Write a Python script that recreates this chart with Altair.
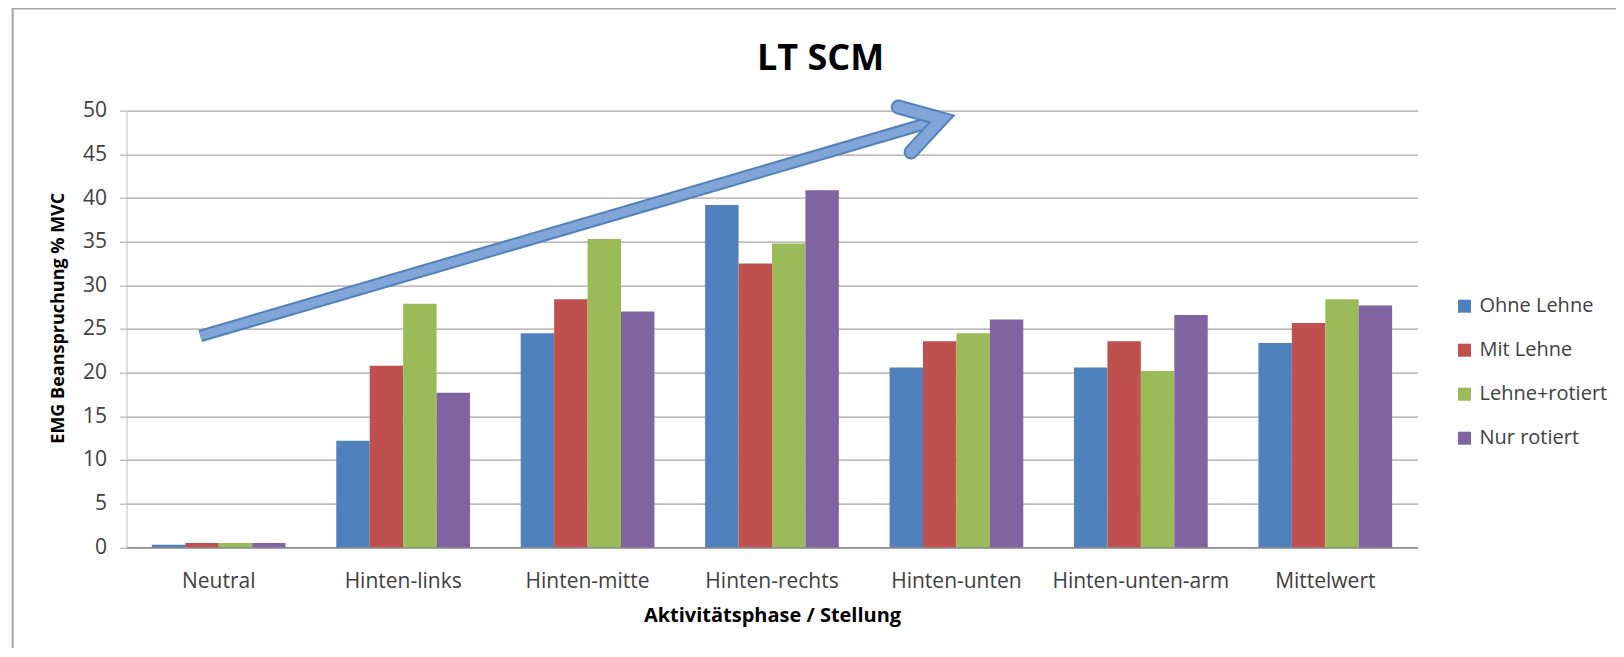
import altair as alt
import pandas as pd

# ---------------- data ----------------
TITLE = "LT SCM"
X_TITLE = "Aktivitätsphase / Stellung"
Y_TITLE = "EMG Beanspruchung % MVC"
CATEGORIES = ["Neutral", "Hinten-links", "Hinten-mitte", "Hinten-rechts",
              "Hinten-unten", "Hinten-unten-arm", "Mittelwert"]
SERIES = ["Ohne Lehne", "Mit Lehne", "Lehne+rotiert", "Nur rotiert"]
OHNE_LEHNE = [0.3, 12.2, 24.5, 39.2, 20.6, 20.6, 23.4]
MIT_LEHNE = [0.5, 20.8, 28.4, 32.5, 23.6, 23.6, 25.7]
LEHNE_ROTIERT = [0.5, 27.9, 35.3, 34.8, 24.5, 20.2, 28.4]
NUR_ROTIERT = [0.5, 17.7, 27.0, 40.9, 26.1, 26.6, 27.7]
Y_TICKS = list(range(0, 51, 5))
CATEGORY_BOUNDARIES = list(range(len(CATEGORIES) + 1))

# arrow annotation, in category units (x) and % MVC (y)
ARROW_SHAFT_X = [0.40, 4.42]
ARROW_SHAFT_Y = [24.2, 49.05]
ARROW_HEAD_X = [4.185, 4.42, 4.254]
ARROW_HEAD_Y = [50.42, 49.05, 45.27]

COLORS = ["#4f81bd", "#c0504d", "#9bbb59", "#8064a2"]

# ---------------- tables ----------------
rows = []
for s, vals in zip(SERIES, [OHNE_LEHNE, MIT_LEHNE, LEHNE_ROTIERT, NUR_ROTIERT]):
    for c, v in zip(CATEGORIES, vals):
        rows.append({"Stellung": c, "Serie": s, "Wert": v})
bars_df = pd.DataFrame(rows)

shaft_df = pd.DataFrame({"ax": ARROW_SHAFT_X, "ay": ARROW_SHAFT_Y,
                         "o": list(range(len(ARROW_SHAFT_X)))})
head_df = pd.DataFrame({"ax": ARROW_HEAD_X, "ay": ARROW_HEAD_Y,
                        "o": list(range(len(ARROW_HEAD_X)))})
title_df = pd.DataFrame({"t": [TITLE]})
one_df = pd.DataFrame({"k": [0]})

W, H = 1291, 436.6
FONT = "Open Sans"

y_scale = alt.Scale(domain=[0, 50], nice=False, zero=True)

bars = alt.Chart(bars_df).mark_bar().encode(
    x=alt.X("Stellung:N", sort=CATEGORIES,
            scale=alt.Scale(paddingInner=0.275, paddingOuter=0.1375),
            axis=alt.Axis(title=X_TITLE, labelAngle=0, ticks=False, tickSize=0,
                          labelPadding=23.6, domainColor="#8c8c8c", domainWidth=1.5,
                          labelFontSize=21, labelColor="#404040", labelFont=FONT,
                          titleFont=FONT, titleFontSize=20, titleFontWeight="bold",
                          titlePadding=14, titleColor="#000000", grid=False)),
    xOffset=alt.XOffset("Serie:N", sort=SERIES,
                        scale=alt.Scale(paddingInner=0, paddingOuter=0)),
    y=alt.Y("Wert:Q", scale=y_scale,
            axis=alt.Axis(values=Y_TICKS, title=Y_TITLE, grid=True,
                          gridColor="#a6a6a6", gridWidth=1.2,
                          domainColor="#bfbfbf", tickColor="#a6a6a6", tickSize=7,
                          labelPadding=13, labelFontSize=21, labelColor="#404040",
                          labelFont=FONT, titleFont=FONT, titleFontSize=18,
                          titleFontWeight="bold", titlePadding=15,
                          titleColor="#000000", titleY=207)),
    color=alt.Color("Serie:N", sort=SERIES,
                    scale=alt.Scale(domain=SERIES, range=COLORS),
                    legend=alt.Legend(title=None, orient="none", legendX=1328,
                                      legendY=185.5, symbolType="square",
                                      symbolSize=170, symbolStrokeWidth=0,
                                      labelFontSize=20, labelColor="#404040",
                                      labelFont=FONT, rowPadding=24,
                                      labelOffset=5, padding=0)),
)

ax_scale = alt.Scale(domain=[0, len(CATEGORIES)], nice=False, zero=False)


def arrow_layer(df, width, color, cap, with_axis=False):
    axis = (alt.Axis(values=CATEGORY_BOUNDARIES, labels=False, domain=False,
                     ticks=True, tickSize=7, tickColor="#8c8c8c", tickWidth=1.5,
                     title=None, grid=False)
            if with_axis else None)
    return alt.Chart(df).mark_line(
        strokeWidth=width, color=color, strokeCap=cap, strokeJoin="miter",
        strokeMiterLimit=10
    ).encode(
        x=alt.X("ax:Q", scale=ax_scale, axis=axis),
        y=alt.Y("ay:Q", scale=y_scale),
        order="o:O",
    )


arrow = alt.layer(
    arrow_layer(shaft_df, 12.5, "#4f81bd", "butt", with_axis=True),
    arrow_layer(shaft_df, 8.5, "#82a5d8", "butt"),
    arrow_layer(head_df, 15, "#4f81bd", "round"),
    arrow_layer(head_df, 11, "#82a5d8", "round"),
)

frame_left = alt.Chart(one_df).mark_rule(color="#a6a6a6", strokeWidth=2).encode(
    x=alt.value(-113.8), y=alt.value(-103), y2=alt.value(H + 110))
frame_top = alt.Chart(one_df).mark_rule(color="#a6a6a6", strokeWidth=2).encode(
    x=alt.value(-114.8), x2=alt.value(W + 200), y=alt.value(-102.2))

title = alt.Chart(title_df).mark_text(
    font=FONT, fontSize=36, fontWeight="bold", color="#000000",
    align="center", baseline="alphabetic"
).encode(x=alt.value(694), y=alt.value(-40.7), text="t:N")

chart = alt.layer(bars, arrow, frame_left, frame_top, title).resolve_scale(
    x="independent"
).properties(
    width=W, height=H,
    padding={"left": 118.5, "top": 102.7, "right": 198, "bottom": 101},
    autosize=alt.AutoSizeParams(type="none"),
    background="white",
).configure_view(stroke=None)

chart.save("out.html", embed_options={"renderer": "svg", "actions": False})
